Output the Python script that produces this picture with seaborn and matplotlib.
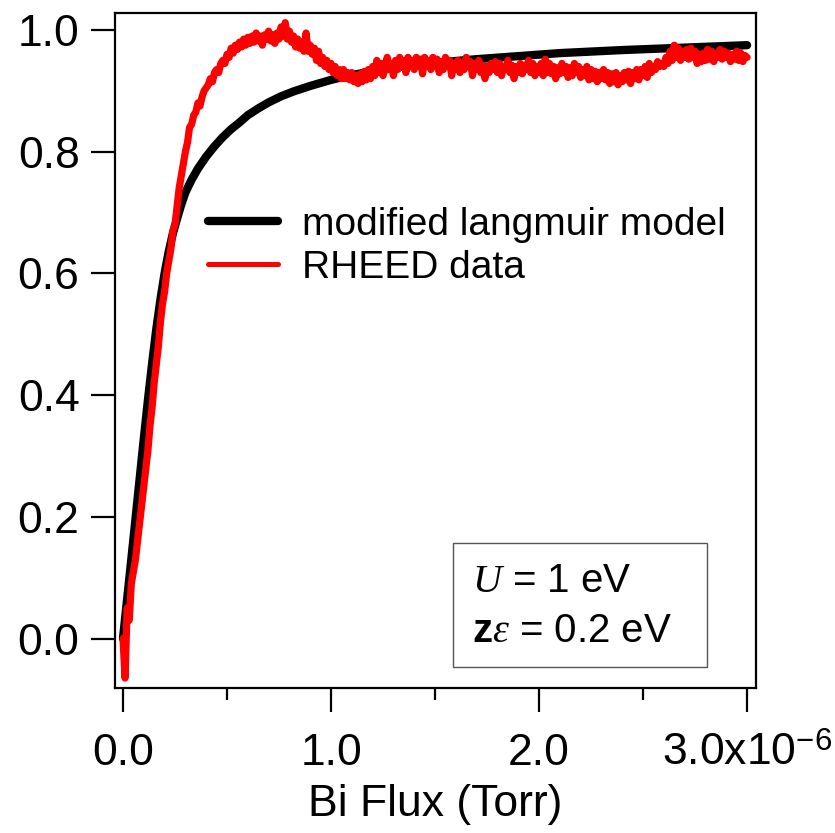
import matplotlib

matplotlib.use("Agg")

import matplotlib.pyplot as plt
import numpy as np
import pandas as pd
import seaborn as sns
from matplotlib.patches import Rectangle
from matplotlib.ticker import FixedLocator

# Bi flux in units of 1e-6 Torr
model_flux = [0.00, 0.02, 0.04, 0.06, 0.08, 0.10, 0.12, 0.14, 0.16, 0.18,
              0.20, 0.22, 0.24, 0.26, 0.28, 0.30, 0.33, 0.36, 0.40, 0.44,
              0.48, 0.52, 0.56, 0.60, 0.65, 0.70, 0.76, 0.82, 0.90, 1.00,
              1.10, 1.20, 1.35, 1.50, 1.70, 1.90, 2.10, 2.40, 2.70, 3.00]
model_cov = [0.000, 0.065, 0.130, 0.196, 0.262, 0.328, 0.392, 0.452, 0.508, 0.557,
             0.600, 0.636, 0.666, 0.690, 0.713, 0.733, 0.754, 0.772, 0.792, 0.809,
             0.824, 0.837, 0.848, 0.860, 0.871, 0.881, 0.891, 0.899, 0.908, 0.918,
             0.926, 0.932, 0.940, 0.946, 0.952, 0.957, 0.962, 0.967, 0.971, 0.975]

# RHEED data sampled every 0.01e-6 Torr from 0 to 3.0e-6 Torr
rheed_step = 0.01
rheed_int = [
    0.00, -0.065, 0.05, 0.03, 0.09, 0.11, 0.13, 0.16, 0.19, 0.22,
    0.25, 0.28, 0.31, 0.35, 0.38, 0.42, 0.45, 0.48, 0.52, 0.55,
    0.57, 0.60, 0.62, 0.64, 0.67, 0.68, 0.71, 0.74, 0.76, 0.78,
    0.80, 0.815, 0.84, 0.845, 0.86, 0.865, 0.88, 0.875, 0.89, 0.90,
    0.905, 0.91, 0.92, 0.915, 0.93, 0.935, 0.93, 0.945, 0.95, 0.945,
    0.96, 0.955, 0.97, 0.962, 0.975, 0.968, 0.98, 0.972, 0.985, 0.975,
    0.988, 0.978, 0.99, 0.98, 0.995, 0.982, 0.99, 0.975, 0.992, 0.985,
    0.998, 0.982, 0.992, 0.978, 0.995, 0.985, 1.005, 0.99, 1.012, 0.985,
    0.998, 0.98, 0.99, 0.972, 0.985, 0.97, 0.98, 0.965, 0.995, 0.965,
    0.975, 0.96, 0.97, 0.95, 0.965, 0.945, 0.955, 0.94, 0.95, 0.935,
    0.945, 0.93, 0.94, 0.925, 0.935, 0.92, 0.935, 0.92, 0.93, 0.918,
    0.93, 0.915, 0.925, 0.912, 0.928, 0.915, 0.932, 0.918, 0.935, 0.92,
    0.94, 0.925, 0.95, 0.93, 0.945, 0.925, 0.94, 0.955, 0.935, 0.945,
    0.925, 0.95, 0.935, 0.955, 0.94, 0.95, 0.93, 0.955, 0.94, 0.95,
    0.935, 0.955, 0.94, 0.952, 0.928, 0.955, 0.94, 0.95, 0.935, 0.955,
    0.94, 0.952, 0.93, 0.948, 0.935, 0.955, 0.94, 0.95, 0.925, 0.945,
    0.935, 0.95, 0.93, 0.945, 0.935, 0.955, 0.94, 0.948, 0.925, 0.945,
    0.935, 0.95, 0.93, 0.942, 0.92, 0.94, 0.93, 0.945, 0.935, 0.948,
    0.93, 0.945, 0.925, 0.94, 0.935, 0.95, 0.93, 0.942, 0.92, 0.94,
    0.93, 0.945, 0.928, 0.942, 0.935, 0.95, 0.93, 0.945, 0.925, 0.94,
    0.93, 0.945, 0.925, 0.952, 0.93, 0.945, 0.928, 0.94, 0.92, 0.938,
    0.928, 0.945, 0.93, 0.94, 0.922, 0.938, 0.925, 0.945, 0.93, 0.94,
    0.922, 0.935, 0.925, 0.94, 0.918, 0.935, 0.92, 0.932, 0.915, 0.93,
    0.92, 0.935, 0.918, 0.93, 0.912, 0.928, 0.915, 0.93, 0.91, 0.925,
    0.915, 0.93, 0.918, 0.932, 0.912, 0.93, 0.92, 0.935, 0.918, 0.935,
    0.925, 0.94, 0.922, 0.945, 0.93, 0.94, 0.935, 0.948, 0.94, 0.945,
    0.94, 0.955, 0.945, 0.965, 0.95, 0.975, 0.955, 0.97, 0.95, 0.965,
    0.955, 0.968, 0.952, 0.97, 0.955, 0.965, 0.945, 0.96, 0.948, 0.962,
    0.95, 0.968, 0.952, 0.965, 0.948, 0.96, 0.955, 0.968, 0.952, 0.965,
    0.955, 0.962, 0.948, 0.96, 0.952, 0.965, 0.95, 0.962, 0.948, 0.958,
    0.955,
]

x_ticks = [0.0, 1.0, 2.0, 3.0]
x_tick_labels = ["0.0", "1.0", "2.0", "3.0x10$^{-6}$"]
x_minor = [0.5, 1.5, 2.5]
y_ticks = [0.0, 0.2, 0.4, 0.6, 0.8, 1.0]

sns.set_style("ticks")
plt.rcParams["font.family"] = ["Liberation Sans", "DejaVu Sans"]
plt.rcParams["mathtext.fontset"] = "custom"
plt.rcParams["mathtext.rm"] = "Liberation Sans"
plt.rcParams["mathtext.it"] = "Liberation Serif:italic"
plt.rcParams["mathtext.bf"] = "Liberation Sans:bold"
for key in ["text.color", "axes.labelcolor", "xtick.color", "ytick.color",
            "axes.edgecolor"]:
    plt.rcParams[key] = "black"

model = pd.DataFrame({"flux": model_flux, "cov": model_cov})
rheed = pd.DataFrame({
    "flux": np.arange(len(rheed_int)) * rheed_step,
    "cov": rheed_int,
})

fig = plt.figure(figsize=(8.35, 8.33), dpi=100)
ax = fig.add_axes([0.1377, 0.1741, 0.7677, 0.8103])

sns.lineplot(data=model, x="flux", y="cov", color="black", linewidth=6.0,
             sort=False, estimator=None, ax=ax, label="modified langmuir model",
             solid_capstyle="round", solid_joinstyle="round")
sns.lineplot(data=rheed, x="flux", y="cov", color="#ff0000", linewidth=5.2,
             sort=False, estimator=None, ax=ax, label="RHEED data",
             solid_capstyle="round", solid_joinstyle="round")

ax.set_xlim(-0.0385, 3.043)
ax.set_ylim(-0.0813, 1.0279)
ax.xaxis.set_major_locator(FixedLocator(x_ticks))
ax.set_xticklabels(x_tick_labels)
ax.xaxis.set_minor_locator(FixedLocator(x_minor))
ax.set_yticks(y_ticks)
ax.set_yticklabels([f"{v:.1f}" for v in y_ticks])

for side in ["left", "right", "top", "bottom"]:
    ax.spines[side].set_visible(True)
    ax.spines[side].set_linewidth(1.6)
ax.tick_params(axis="both", which="major", length=17, width=1.6,
               direction="out", labelsize=32)
ax.tick_params(axis="x", which="major", pad=15.5)
ax.tick_params(axis="y", which="major", pad=8.5)
ax.tick_params(axis="x", which="minor", length=8.5, width=1.6, direction="out")
ax.tick_params(top=False, right=False, which="both")

ax.set_xlabel("Bi Flux (Torr)", fontsize=32, labelpad=7)
ax.set_ylabel("")

leg = ax.legend(loc="upper left", bbox_to_anchor=(0.249, 0.7514),
                bbox_transform=fig.transFigure, frameon=False, fontsize=28,
                handlelength=1.8, handletextpad=0.62, labelspacing=0.17,
                borderpad=0, borderaxespad=0)
leg.get_lines()[1].set_linewidth(3.6)

fig.patches.append(Rectangle((453 / 835, 1 - 667 / 833), 254 / 835, 124 / 833,
                             transform=fig.transFigure, fill=False,
                             edgecolor="#555555", linewidth=1.0))
fig.text(472 / 835, 1 - 592 / 833, r"$\mathit{U}$ = 1 eV", fontsize=29,
         va="baseline", ha="left")
fig.text(472 / 835, 1 - 642 / 833, r"$\mathbf{z}\mathit{\varepsilon}$ = 0.2 eV",
         fontsize=29, va="baseline", ha="left")

fig.savefig("out.png", dpi=100)
plt.close(fig)
